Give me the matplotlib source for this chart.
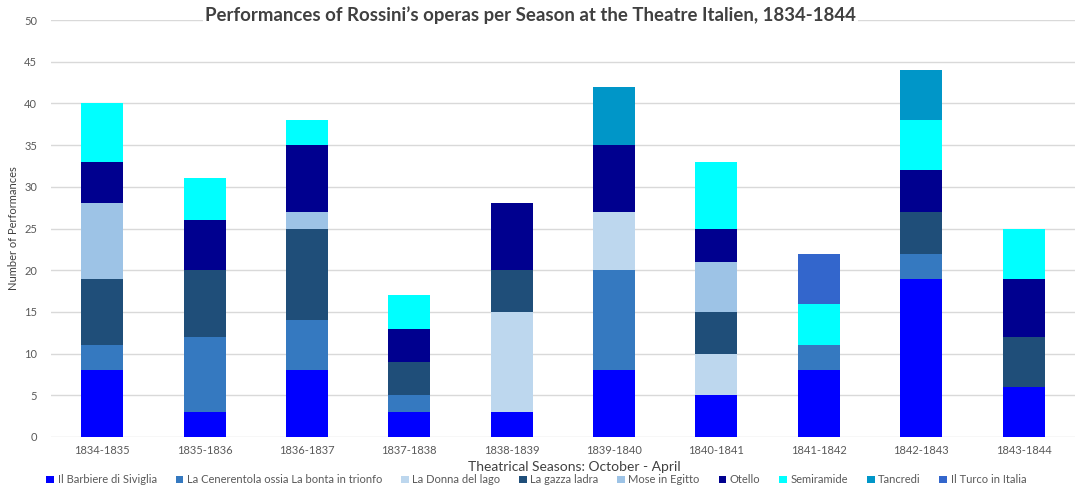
import numpy as np
import matplotlib
matplotlib.use("Agg")
import matplotlib.pyplot as plt

plt.rcParams['font.family'] = ['Lato', 'DejaVu Sans']

seasons = ['1834-1835', '1835-1836', '1836-1837', '1837-1838', '1838-1839',
           '1839-1840', '1840-1841', '1841-1842', '1842-1843', '1843-1844']

operas = ['Il Barbiere di Siviglia', 'La Cenerentola ossia La bonta in trionfo',
          'La Donna del lago', 'La gazza ladra', 'Mose in Egitto', 'Otello',
          'Semiramide', 'Tancredi', 'Il Turco in Italia']

barbiere    = [8, 3, 8, 3, 3, 8, 5, 8, 19, 6]
cenerentola = [3, 9, 6, 2, 0, 12, 0, 3, 3, 0]
donna       = [0, 0, 0, 0, 12, 7, 5, 0, 0, 0]
gazza       = [8, 8, 11, 4, 5, 0, 5, 0, 5, 6]
mose        = [9, 0, 2, 0, 0, 0, 6, 0, 0, 0]
otello      = [5, 6, 8, 4, 8, 8, 4, 0, 5, 7]
semiramide  = [7, 5, 3, 4, 0, 0, 8, 5, 6, 6]
tancredi    = [0, 0, 0, 0, 0, 7, 0, 0, 6, 0]
turco       = [0, 0, 0, 0, 0, 0, 0, 6, 0, 0]

colors = ['#0000ff', '#3579c0', '#bdd7ee', '#1f4e79', '#9dc3e6',
          '#00008f', '#00ffff', '#0096c8', '#3366cc']

series = [barbiere, cenerentola, donna, gazza, mose, otello,
          semiramide, tancredi, turco]

fig = plt.figure(figsize=(10.78, 4.93), dpi=100)
ax = fig.add_axes([0.0473, 0.1136, 0.9497, 0.8458])

x = np.arange(len(seasons))
bottom = np.zeros(len(seasons))
for name, vals, col in zip(operas, series, colors):
    vals = np.array(vals, dtype=float)
    ax.bar(x, vals, width=0.41, bottom=bottom, color=col, label=name, zorder=3)
    bottom += vals

ax.set_xlim(-0.5, len(seasons) - 0.5)
ax.set_ylim(0, 50)
ax.set_yticks(np.arange(0, 51, 5))
ax.set_xticks(x)
ax.set_xticklabels(seasons)
ax.tick_params(axis='both', length=0, labelsize=8, colors='#595959')
ax.tick_params(axis='x', pad=6)
ax.tick_params(axis='y', pad=10)
ax.yaxis.grid(True, color='#d9d9d9', linewidth=1, zorder=0)
for s in ax.spines.values():
    s.set_visible(False)

ax.set_ylabel('Number of Performances', fontsize=8, color='#404040', labelpad=4)
fig.text(0.533, 0.053, 'Theatrical Seasons: October - April', fontsize=10,
         color='#404040', ha='center', va='center')

# title sits on the top gridline with a white backing
fig.text(0.492, 0.957,
         "Performances of Rossini\u2019s operas per Season at the Theatre Italien, 1834-1844",
         fontsize=13.4, fontweight='bold', color='#404040', ha='center', va='baseline',
         bbox=dict(facecolor='white', edgecolor='none', pad=1.5), zorder=5)

leg = ax.legend(loc='center', bbox_to_anchor=(0.474, -0.103), ncol=9, frameon=False,
                fontsize=8, handlelength=0.7, handleheight=0.6, handletextpad=0.3,
                columnspacing=1.7, labelcolor='#595959')

fig.savefig('out.png', dpi=100)
